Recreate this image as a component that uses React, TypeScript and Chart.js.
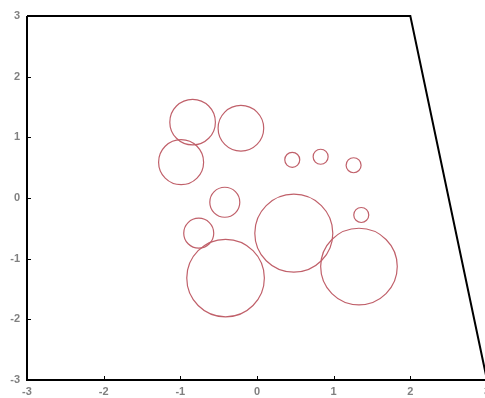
import React, { useEffect, useRef } from "react";
import { Chart, registerables } from "chart.js";

Chart.register(...registerables);

const bubbleX = [-0.84, -0.21, -0.99, 0.46, 0.83, 1.26, 1.36, -0.42, -0.76, -0.41, 0.48, 1.33];
const bubbleY = [1.25, 1.15, 0.59, 0.63, 0.68, 0.54, -0.28, -0.07, -0.58, -1.32, -0.58, -1.13];
const bubbleR = [22.8, 22.8, 22.5, 7.5, 7.5, 7.5, 7.5, 15, 15, 38.8, 39, 38.3];

const frameX = [-3, 2, 3];
const frameY = [3, 3, -3];

const tickValues = [-3, -2, -1, 0, 1, 2, 3];

const innerTicks = {
  id: "innerTicks",
  afterDraw(chart: any) {
    const ctx = chart.ctx;
    const xs = chart.scales.x;
    const ys = chart.scales.y;
    const area = chart.chartArea;
    ctx.save();
    ctx.strokeStyle = "#000";
    ctx.lineWidth = 1;
    ctx.beginPath();
    tickValues.forEach((v) => {
      if (v === -3 || v === 3) return;
      const px = Math.round(xs.getPixelForValue(v)) + 0.5;
      ctx.moveTo(px, area.bottom);
      ctx.lineTo(px, area.bottom - 4);
      const py = Math.round(ys.getPixelForValue(v)) + 0.5;
      ctx.moveTo(area.left, py);
      ctx.lineTo(area.left + 4, py);
    });
    ctx.stroke();
    ctx.lineWidth = 2;
    ctx.beginPath();
    ctx.moveTo(area.left, area.top);
    ctx.lineTo(area.left, area.bottom);
    ctx.lineTo(area.right + 2, area.bottom);
    ctx.stroke();
    ctx.restore();
  },
};

export default function App() {
  const ref = useRef<HTMLCanvasElement>(null);
  useEffect(() => {
    if (!ref.current) return;
    const font = { family: "'Liberation Sans', Arial, sans-serif", size: 11, weight: "bold" as const };
    const chart = new Chart(ref.current, {
      type: "bubble",
      data: {
        datasets: [
          {
            type: "bubble",
            data: bubbleX.map((x, i) => ({ x, y: bubbleY[i], r: bubbleR[i] })),
            backgroundColor: "rgba(0,0,0,0)",
            borderColor: "#c0606a",
            borderWidth: 1.2,
          },
          {
            type: "line",
            data: frameX.map((x, i) => ({ x, y: frameY[i] })),
            borderColor: "#000",
            borderWidth: 2,
            pointRadius: 0,
            fill: false,
            tension: 0,
          } as any,
        ],
      },
      options: {
        animation: false,
        responsive: false,
        clip: false as any,
        layout: { autoPadding: false, padding: { top: 16, right: 13, left: 0, bottom: 0 } },
        plugins: { legend: { display: false }, tooltip: { enabled: false } },
        scales: {
          x: {
            type: "linear",
            min: -3,
            max: 3,
            afterBuildTicks: (s: any) => {
              s.ticks = tickValues.map((v) => ({ value: v }));
            },
            grid: { display: false, drawTicks: false },
            border: { display: false },
            ticks: { color: "#808080", font, padding: 5, maxRotation: 0 },
            afterFit: (s: any) => {
              s.height = 18;
            },
          },
          y: {
            type: "linear",
            min: -3,
            max: 3,
            afterBuildTicks: (s: any) => {
              s.ticks = tickValues.map((v) => ({ value: v }));
            },
            grid: { display: false, drawTicks: false },
            border: { display: false },
            ticks: { color: "#808080", font, padding: 7 },
            afterFit: (s: any) => {
              s.width = 27;
            },
          },
        },
      } as any,
      plugins: [innerTicks],
    });
    return () => chart.destroy();
  }, []);
  return (
    <div style={{ position: "fixed", left: 0, top: 0, width: 485, height: 398, overflow: "hidden", background: "#fff" }}>
      <canvas ref={ref} width={500} height={398} style={{ display: "block" }} />
    </div>
  );
}
